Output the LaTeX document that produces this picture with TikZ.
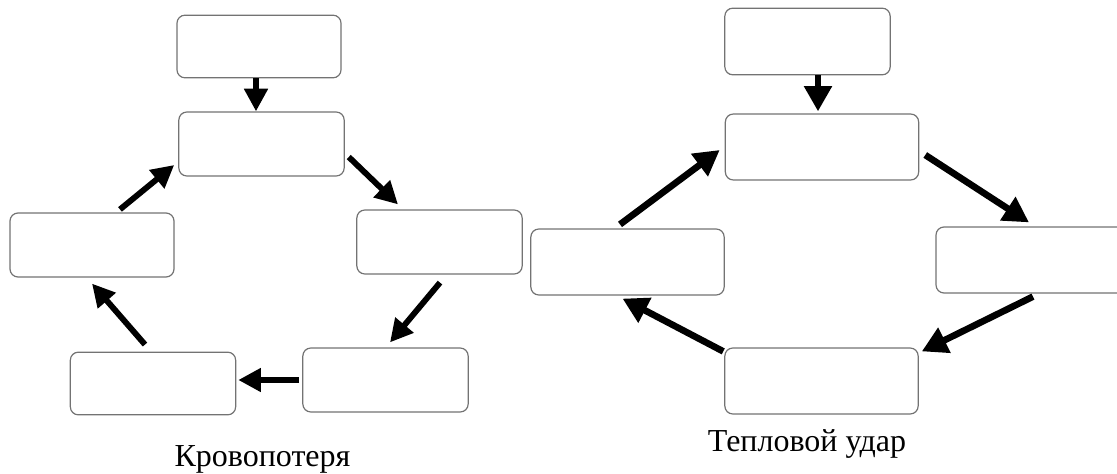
\documentclass[tikz,border=0pt]{standalone}
\usepackage{fontspec}
\setmainfont{Liberation Serif}
\usetikzlibrary{arrows.meta}

\begin{document}
\begin{tikzpicture}[x=0.75pt, y=-0.75pt,
  box/.style = {shape=rectangle, draw=black!55, line width=0.9pt,
    rounded corners=6pt, fill=white, inner sep=0pt},
  flow/.style = {line width=4.4pt, -{Triangle[width=17pt,length=17pt]}},
  bigflow/.style = {line width=5pt, -{Triangle[width=20pt,length=19pt]}},
  caption/.style = {font=\fontsize{24}{28}\selectfont, anchor=base}]
  \useasboundingbox (0,0) rectangle (1117,474);
  % Кровопотеря
  \node[box, minimum width=123pt, minimum height=47pt] (t1) at (259,46.5) {};
  \node[box, minimum width=124pt, minimum height=48pt] (a1) at (261.5,144) {};
  \node[box, minimum width=124pt, minimum height=48pt] (b1) at (439.5,242) {};
  \node[box, minimum width=124pt, minimum height=48pt] (c1) at (385.5,380) {};
  \node[box, minimum width=124pt, minimum height=47pt] (d1) at (153,383.5) {};
  \node[box, minimum width=123pt, minimum height=48pt] (e1) at (92,245) {};
  \draw[flow] ([shift={(-3,0)}]t1.south) -- ([shift={(-5.5,0)}]a1.north);
  \draw[flow] ([shift={(4,13)}]a1.east) -- ([shift={(-41.5,-5)}]b1.north);
  \draw[flow] ([shift={(0.5,8)}]b1.south) -- ([shift={(4.5,-5)}]c1.north);
  \draw[flow] ([shift={(-3,0)}]c1.west) -- ([shift={(2,-3.5)}]d1.east);
  \draw[flow] ([shift={(-8,-7)}]d1.north) -- ([shift={(0,6)}]e1.south);
  \draw[flow] ([shift={(28,-3)}]e1.north) -- ([shift={(-4,21)}]a1.west);
  \node[caption] (cap1) at (262.5,466) {Кровопотеря};
  % Тепловой удар
  \node[box, minimum width=124pt, minimum height=50pt] (t2) at (807.5,41.5) {};
  \node[box, minimum width=145pt, minimum height=49.5pt] (a2) at (822,147) {};
  \node[box, minimum width=150pt, minimum height=49.5pt] (b2) at (1036,260) {};
  \node[box, minimum width=145pt, minimum height=49.5pt] (c2) at (821.5,381) {};
  \node[box, minimum width=145pt, minimum height=49.5pt] (e2) at (627.5,262) {};
  \draw[bigflow] ([shift={(10.5,0)}]t2.south) -- ([shift={(-4,-2)}]a2.north);
  \draw[bigflow] ([shift={(6,8)}]a2.east) -- ([shift={(-7,-4)}]b2.north);
  \draw[bigflow] ([shift={(-3,3)}]b2.south) -- ([shift={(3,4)}]c2.north east);
  \draw[bigflow] ([shift={(-1,4)}]c2.north west) -- ([shift={(-5,3)}]e2.south);
  \draw[bigflow] ([shift={(-7.5,-4)}]e2.north) -- ([shift={(-5,3)}]a2.west);
  \node[caption] (cap2) at (807,451) {Тепловой удар};
\end{tikzpicture}
\end{document}
